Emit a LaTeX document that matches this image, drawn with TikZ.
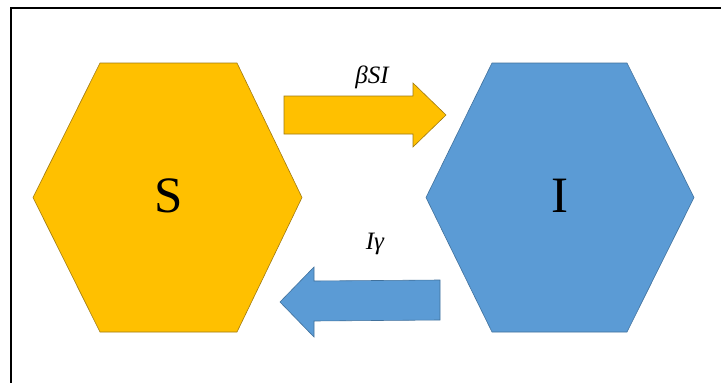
\documentclass[tikz,border=0pt]{standalone}
\usepackage{fontspec}
\setmainfont{Liberation Serif}
\usetikzlibrary{calc}
\definecolor{sorange}{HTML}{FFC000}
\definecolor{sorangeline}{HTML}{A07A10}
\definecolor{iblue}{HTML}{5B9BD5}
\definecolor{iblueline}{HTML}{41719C}
\tikzset{
  hexS/.style={fill=sorange, draw=sorangeline, line width=0.6pt, line join=miter},
  hexI/.style={fill=iblue, draw=iblueline, line width=0.6pt, line join=miter},
  bigletter/.style={font=\fontsize{51}{58}\selectfont, inner sep=0pt},
  ratelabel/.style={font=\fontsize{25}{30}\selectfont\itshape, inner sep=0pt},
}
\begin{document}
\begin{tikzpicture}[x=1pt,y=-1pt]
\useasboundingbox (0,0) rectangle (721,383);
\fill[white] (0,0) rectangle (721,383);
% frame
\draw[black, line width=1.2pt] (11,383) -- (11,8) -- (721,8);
% S hexagon
\draw[hexS] (33,197.5) -- (100,63) -- (237,63) -- (302,197.5) -- (237,332) -- (100,332) -- cycle;
\node[bigletter] (S) at (168.5,196) {S};
% I hexagon
\draw[hexI] (426,197.5) -- (492,63) -- (627,63) -- (694,197.5) -- (627,332) -- (492,332) -- cycle;
\node[bigletter] (I) at (560,196) {I};
% upper arrow
\draw[hexS] (284,96) -- (413,96) -- (413,83) -- (446,115) -- (413,147) -- (413,134) -- (284,134) -- cycle;
\node[ratelabel] (l1) at (372,77) {βSI};
% lower arrow
\draw[hexI] (440,280) -- (314,281) -- (314,267) -- (280,302) -- (314,337) -- (314,321) -- (440,320) -- cycle;
\node[ratelabel] (l2) at (375,244) {Iγ};
\end{tikzpicture}
\end{document}
